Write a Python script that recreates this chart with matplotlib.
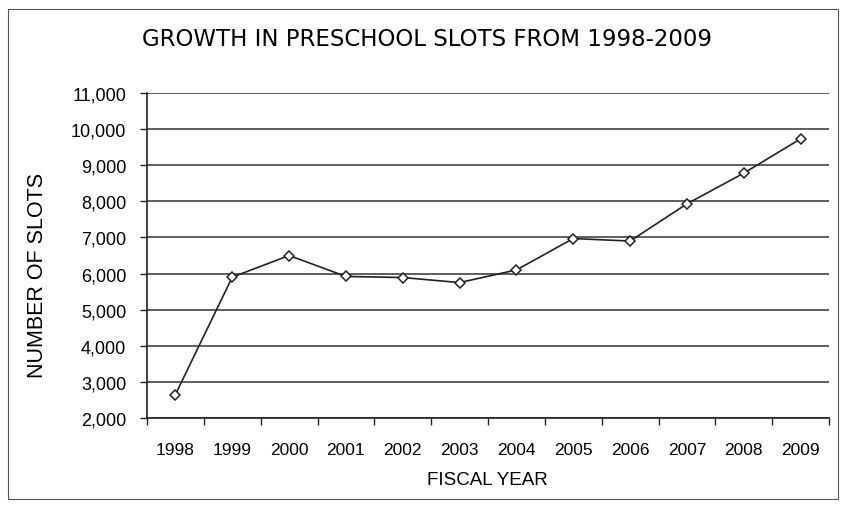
import matplotlib.pyplot as plt
from matplotlib.patches import Rectangle
from matplotlib.ticker import FuncFormatter, FixedLocator

plt.rcParams['font.family'] = ['Liberation Sans', 'DejaVu Sans']

years = ['1998', '1999', '2000', '2001', '2002', '2003',
         '2004', '2005', '2006', '2007', '2008', '2009']
slots = [2650, 5900, 6500, 5920, 5890, 5750,
         6100, 6970, 6900, 7930, 8780, 9730]

W, H = 844, 506
fig = plt.figure(figsize=(W / 100, H / 100), dpi=100)
ax = fig.add_axes([147 / W, 1 - 419 / H, 682 / W, 325 / H])

x = range(len(years))
ax.plot(x, slots, color='#222222', linewidth=1.2, marker='D', markersize=5,
        markerfacecolor='white', markeredgecolor='#222222', markeredgewidth=1.1,
        zorder=3)

ax.set_xlim(-0.5, len(years) - 0.5)
ax.set_ylim(2000, 11000)
ax.set_yticks(range(2000, 11001, 1000))
ax.yaxis.set_major_formatter(FuncFormatter(lambda v, p: f'{int(v):,}'))
ax.yaxis.grid(True, color='#333333', linewidth=1.1)
ax.set_axisbelow(True)

# category labels centred, tick marks between categories
ax.set_xticks(list(x))
ax.set_xticklabels(years)
ax.xaxis.set_minor_locator(FixedLocator([i - 0.5 for i in range(len(years) + 1)]))
ax.tick_params(axis='x', which='major', length=0, pad=17, labelsize=12.5)
ax.tick_params(axis='x', which='minor', length=5, width=1, direction='out', color='#222222')
ax.tick_params(axis='y', length=5, width=1, direction='out', pad=10, labelsize=13,
               color='#222222')

for side in ['top', 'right']:
    ax.spines[side].set_visible(False)
for side in ['left', 'bottom']:
    ax.spines[side].set_color('#222222')
    ax.spines[side].set_linewidth(1.2)

fig.text(487 / W, 1 - 481 / H, 'FISCAL YEAR', ha='center', va='center', fontsize=13.5)
fig.text(38 / W, 1 - 275 / H, 'NUMBER OF SLOTS', ha='center', va='center',
         rotation=90, fontsize=15.5)
fig.text(427 / W, 1 - 40 / H, 'GROWTH IN PRESCHOOL SLOTS FROM 1998-2009',
         ha='center', va='center', fontsize=16.5, family='DejaVu Sans')

# outer chart border
fig.patches.append(Rectangle((8 / W, 6 / H), 830 / W, 490 / H,
                             transform=fig.transFigure, fill=False,
                             edgecolor='#555555', linewidth=0.8))

fig.savefig('out.png', dpi=100)
